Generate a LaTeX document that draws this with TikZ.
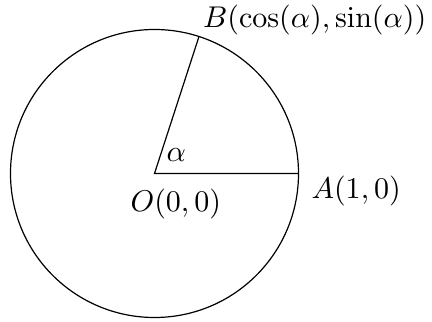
\documentclass[tikz,border=0pt]{standalone}
\begin{document}
\begin{tikzpicture}[x=0.33333pt,y=-0.33333pt,
  lbl/.style={anchor=base west,inner sep=0pt}]
\useasboundingbox (0,0) rectangle (432,322);
\coordinate (O) at (154.5,173.5);
\coordinate (A) at (298.5,173.5);
\coordinate (B) at (199,36.5);
\draw (O) circle[radius=48pt];
\draw (A) -- (O) -- (B);
\node[lbl] (bl) at (202.5,28) {$B(\cos(\alpha),\sin(\alpha))$};
\node[lbl] (al) at (311,198.3) {$A(1,0)$};
\node[lbl] (ol) at (130,211.7) {$O(0,0)$};
\node[lbl] (alpha) at (166,161.7) {$\alpha$};
\end{tikzpicture}
\end{document}
